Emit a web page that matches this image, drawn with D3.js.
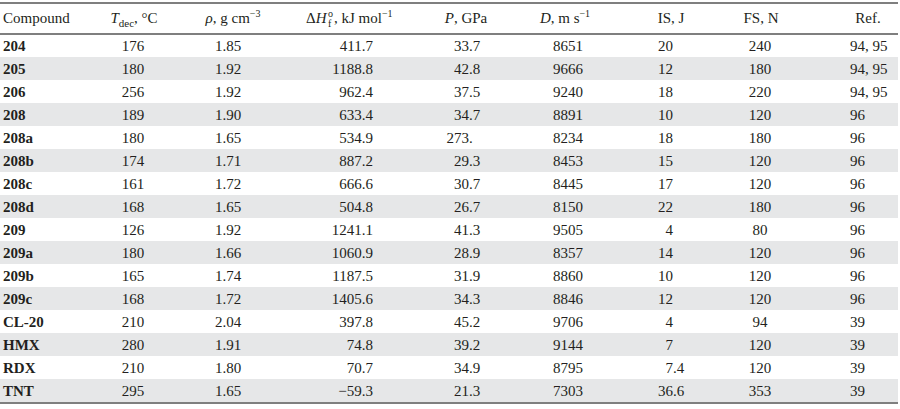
<!DOCTYPE html>
<html>
<head>
<meta charset="utf-8">
<script src="https://cdn.jsdelivr.net/npm/d3@7"></script>
<style>
  body { margin: 0; background: #fff; }
  svg text { font-family: "Liberation Serif", "Times New Roman", serif; fill: #231f20; }
</style>
</head>
<body>
<svg id="tbl" width="900" height="409"></svg>
<script>
// table values
const compounds = ["204","205","206","208","208a","208b","208c","208d","209","209a","209b","209c","CL-20","HMX","RDX","TNT"];
const tdec      = ["176","180","256","189","180","174","161","168","126","180","165","168","210","280","210","295"];
const density   = ["1.85","1.92","1.92","1.90","1.65","1.71","1.72","1.65","1.92","1.66","1.74","1.72","2.04","1.91","1.80","1.65"];
const dhf       = ["411.7","1188.8","962.4","633.4","534.9","887.2","666.6","504.8","1241.1","1060.9","1187.5","1405.6","397.8","74.8","70.7","\u221259.3"];
const pressure  = ["33.7","42.8","37.5","34.7","273.","29.3","30.7","26.7","41.3","28.9","31.9","34.3","45.2","39.2","34.9","21.3"];
const velocity  = ["8651","9666","9240","8891","8234","8453","8445","8150","9505","8357","8860","8846","9706","9144","8795","7303"];
const impact    = ["20","12","18","10","18","15","17","22","4","14","10","12","4","7","7.4","36.6"];
const friction  = ["240","180","220","120","180","120","120","180","80","120","120","120","94","120","120","353"];
const refs      = ["94, 95","94, 95","94, 95","96","96","96","96","96","96","96","96","96","39","39","39","39"];

const width = 900, height = 409;
const topY = 3, headBottom = 34, bottomY = 402;

const svg = d3.select("#tbl");

// row scale
const y = d3.scaleBand().domain(compounds).range([headBottom, bottomY]);

// striped rows
svg.append("g").selectAll("rect")
  .data(compounds.filter((d, i) => i % 2 === 1))
  .join("rect")
  .attr("x", 0).attr("width", width - 2)
  .attr("y", d => y(d)).attr("height", y.bandwidth())
  .attr("fill", "#e6e7e8");

// rules
const rule = (yy) => svg.append("line")
  .attr("x1", 0).attr("x2", width - 2)
  .attr("y1", yy).attr("y2", yy)
  .attr("stroke", "#555").attr("stroke-width", 1.6);
rule(topY);
rule(headBottom);
rule(bottomY + 1);

// columns: values + how they line up
const columns = [
  { key: "compound", values: compounds, x: 3,   align: "left", bold: true },
  { key: "tdec",     values: tdec,      x: 133, align: "center" },
  { key: "density",  values: density,   x: 228, align: "center" },
  { key: "dhf",      values: dhf,       x: 373, align: "right" },
  { key: "pressure", values: pressure,  x: 469, align: "decimal" },
  { key: "velocity", values: velocity,  x: 568, align: "center" },
  { key: "impact",   values: impact,    x: 673, align: "decimal" },
  { key: "friction", values: friction,  x: 760, align: "center" },
  { key: "refs",     values: refs,      x: 850, align: "left" }
];

const anchor = { left: "start", center: "middle", right: "end" };
const body = svg.append("g").attr("font-size", 15);

columns.forEach(col => {
  const g = body.append("g");
  col.values.forEach((v, i) => {
    const yy = y(compounds[i]) + y.bandwidth() / 2 + 5;
    if (col.align === "decimal") {
      const k = v.indexOf(".");
      const ip = k < 0 ? v : v.slice(0, k);
      const fp = k < 0 ? "" : v.slice(k);
      g.append("text").attr("x", col.x).attr("y", yy).attr("text-anchor", "end").text(ip);
      if (fp) g.append("text").attr("x", col.x).attr("y", yy).attr("text-anchor", "start").text(fp);
    } else {
      g.append("text")
        .attr("x", col.x).attr("y", yy)
        .attr("text-anchor", anchor[col.align])
        .attr("font-weight", col.bold ? "bold" : null)
        .text(v);
    }
  });
});

// header
const hy = 23;
const head = svg.append("g").attr("font-size", 15);

head.append("text").attr("x", 3).attr("y", hy).text("Compound");

let t = head.append("text").attr("x", 134).attr("y", hy).attr("text-anchor", "middle");
t.append("tspan").attr("font-style", "italic").text("T");
t.append("tspan").attr("font-size", 11).attr("dy", 4).text("dec");
t.append("tspan").attr("dy", -4).text(", °C");

t = head.append("text").attr("x", 233).attr("y", hy).attr("text-anchor", "middle");
t.append("tspan").attr("font-style", "italic").text("\u03c1");
t.append("tspan").text(", g cm");
t.append("tspan").attr("font-size", 10).attr("dy", -6).text("\u22123");

// ΔH with stacked o / f
t = head.append("text").attr("x", 306).attr("y", hy);
t.append("tspan").text("\u0394");
t.append("tspan").attr("font-style", "italic").text("H");
const hx = 328;
head.append("text").attr("x", hx).attr("y", hy - 6).attr("font-size", 10).text("o");
head.append("text").attr("x", hx).attr("y", hy + 4).attr("font-size", 10).text("f");
t = head.append("text").attr("x", hx + 6).attr("y", hy);
t.append("tspan").text(", kJ mol");
t.append("tspan").attr("font-size", 10).attr("dy", -6).text("\u22121");

t = head.append("text").attr("x", 466).attr("y", hy).attr("text-anchor", "middle");
t.append("tspan").attr("font-style", "italic").text("P");
t.append("tspan").text(", GPa");

t = head.append("text").attr("x", 565).attr("y", hy).attr("text-anchor", "middle");
t.append("tspan").attr("font-style", "italic").text("D");
t.append("tspan").text(", m s");
t.append("tspan").attr("font-size", 10).attr("dy", -6).text("\u22121");

head.append("text").attr("x", 671).attr("y", hy).attr("text-anchor", "middle").text("IS, J");
head.append("text").attr("x", 761).attr("y", hy).attr("text-anchor", "middle").text("FS, N");
head.append("text").attr("x", 868).attr("y", hy).attr("text-anchor", "middle").text("Ref.");
</script>
</body>
</html>
